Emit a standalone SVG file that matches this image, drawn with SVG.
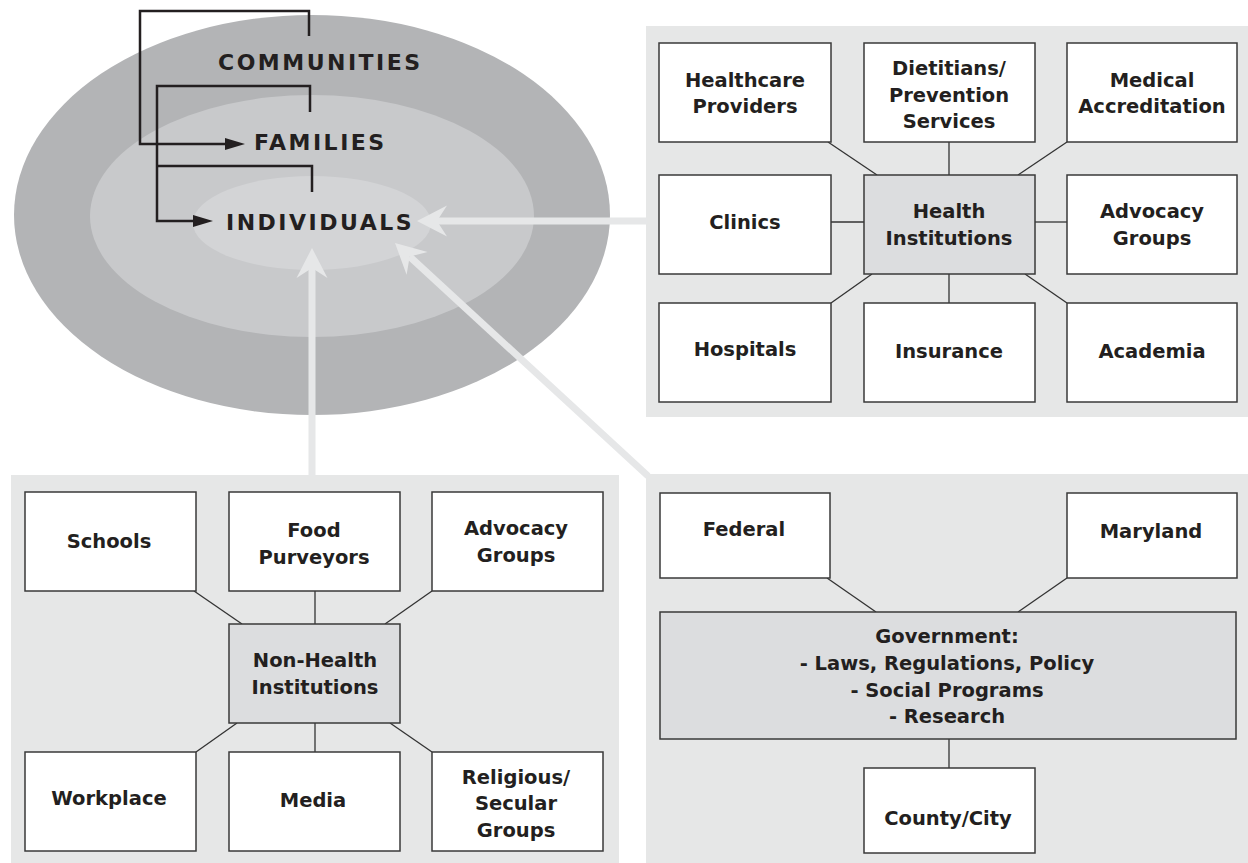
<svg xmlns="http://www.w3.org/2000/svg" width="1248" height="863" viewBox="0 0 1248 863">
<defs>
<style>
.panel{fill:#e6e7e7;stroke:none}
.box{fill:#ffffff;stroke:#3a3a3a;stroke-width:1.5}
.hub{fill:#dcdddf;stroke:#3a3a3a;stroke-width:1.5}
.ln{stroke:#333333;stroke-width:1.3;fill:none}
.t{font-family:"DejaVu Sans",Verdana,sans-serif;font-weight:bold;font-size:19.5px;fill:#231f20;text-anchor:middle}
.big{font-family:"DejaVu Sans",Verdana,sans-serif;font-weight:bold;font-size:22px;fill:#231f20;letter-spacing:2.5px}
.blk{stroke:#231f20;stroke-width:2.5;fill:none}
.lt{stroke:#e6e7e8;stroke-width:7;fill:none}
.lth{fill:#e6e7e8;stroke:none}
</style>
<marker id="ah" viewBox="0 0 20 12" refX="10" refY="6" markerWidth="20" markerHeight="12" markerUnits="userSpaceOnUse" orient="auto">
<path d="M0,0 L20,6 L0,12 z" fill="#231f20"/>
</marker>
</defs>
<rect width="1248" height="863" fill="#ffffff"/>

<g id="rings">
<ellipse id="communities-ring" cx="312" cy="215" rx="298" ry="200" fill="#b3b4b6"/>
<ellipse id="families-ring" cx="312" cy="216" rx="222" ry="121" fill="#c8c9cb"/>
<ellipse id="individuals-ring" cx="312" cy="223" rx="119" ry="47" fill="#d3d4d6"/>
</g>

<g id="panels">
<rect id="health-panel" class="panel" x="646" y="26" width="602" height="391"/>
<rect id="nonhealth-panel" class="panel" x="11" y="475" width="608" height="388"/>
<rect id="government-panel" class="panel" x="646" y="474" width="602" height="389"/>
</g>

<g id="connectors">
<line class="lt" x1="647" y1="221" x2="437" y2="221"/>
<polygon class="lth" points="417,221 447,205.5 437,221 447,236.5"/>
<line class="lt" x1="312" y1="476" x2="312" y2="268"/>
<polygon class="lth" points="312,248 327.5,278 312,268 296.5,278"/>
<line class="lt" x1="648" y1="476" x2="409.7" y2="256.6"/>
<polygon class="lth" points="395,243 427.6,251.9 409.7,256.6 406.6,274.7"/>

<path class="blk" d="M309,36 V11 H140 V144 H235" marker-end="url(#ah)"/>
<path class="blk" d="M310,112 V86 H157 V221 H203" marker-end="url(#ah)"/>
<path class="blk" d="M157,166 H312 V192"/>

<line class="ln" x1="828" y1="142" x2="877" y2="175"/>
<line class="ln" x1="949" y1="142" x2="949" y2="175"/>
<line class="ln" x1="1067" y1="142" x2="1018" y2="175"/>
<line class="ln" x1="831" y1="222" x2="864" y2="222"/>
<line class="ln" x1="1035" y1="222" x2="1067" y2="222"/>
<line class="ln" x1="872" y1="274" x2="831" y2="303"/>
<line class="ln" x1="949" y1="274" x2="949" y2="303"/>
<line class="ln" x1="1025" y1="274" x2="1067" y2="303"/>

<line class="ln" x1="194" y1="591" x2="242" y2="624"/>
<line class="ln" x1="315" y1="591" x2="315" y2="624"/>
<line class="ln" x1="432" y1="591" x2="385" y2="624"/>
<line class="ln" x1="237" y1="723" x2="196" y2="752"/>
<line class="ln" x1="315" y1="723" x2="315" y2="752"/>
<line class="ln" x1="390" y1="723" x2="432" y2="752"/>

<line class="ln" x1="827" y1="578" x2="876" y2="612"/>
<line class="ln" x1="1067" y1="578" x2="1018" y2="612"/>
<line class="ln" x1="949" y1="739" x2="949" y2="768"/>
</g>

<g id="ring-labels">
<text id="communities" class="big" x="218" y="70">COMMUNITIES</text>
<text id="families" class="big" x="254" y="150">FAMILIES</text>
<text id="individuals" class="big" x="226" y="230">INDIVIDUALS</text>
</g>

<g id="healthcare-providers"><rect class="box" x="659" y="43" width="172" height="99"/><text class="t" x="745" y="87">Healthcare</text><text class="t" x="745" y="113">Providers</text></g>
<g id="dietitians"><rect class="box" x="864" y="43" width="171" height="99"/><text class="t" x="949" y="75">Dietitians/</text><text class="t" x="949" y="102">Prevention</text><text class="t" x="949" y="128">Services</text></g>
<g id="medical-accreditation"><rect class="box" x="1067" y="43" width="170" height="99"/><text class="t" x="1152" y="87">Medical</text><text class="t" x="1152" y="113">Accreditation</text></g>
<g id="clinics"><rect class="box" x="659" y="175" width="172" height="99"/><text class="t" x="745" y="229">Clinics</text></g>
<g id="health-institutions"><rect class="hub" x="864" y="175" width="171" height="99"/><text class="t" x="949" y="218">Health</text><text class="t" x="949" y="245">Institutions</text></g>
<g id="advocacy-health"><rect class="box" x="1067" y="175" width="170" height="99"/><text class="t" x="1152" y="218">Advocacy</text><text class="t" x="1152" y="245">Groups</text></g>
<g id="hospitals"><rect class="box" x="659" y="303" width="172" height="99"/><text class="t" x="745" y="356">Hospitals</text></g>
<g id="insurance"><rect class="box" x="864" y="303" width="171" height="99"/><text class="t" x="949" y="358">Insurance</text></g>
<g id="academia"><rect class="box" x="1067" y="303" width="170" height="99"/><text class="t" x="1152" y="358">Academia</text></g>

<g id="schools"><rect class="box" x="25" y="492" width="171" height="99"/><text class="t" x="109" y="548">Schools</text></g>
<g id="food-purveyors"><rect class="box" x="229" y="492" width="171" height="99"/><text class="t" x="314" y="537">Food</text><text class="t" x="314" y="564">Purveyors</text></g>
<g id="advocacy-nonhealth"><rect class="box" x="432" y="492" width="171" height="99"/><text class="t" x="516" y="535">Advocacy</text><text class="t" x="516" y="562">Groups</text></g>
<g id="nonhealth-institutions"><rect class="hub" x="229" y="624" width="171" height="99"/><text class="t" x="315" y="667">Non-Health</text><text class="t" x="315" y="694">Institutions</text></g>
<g id="workplace"><rect class="box" x="25" y="752" width="171" height="99"/><text class="t" x="109" y="805">Workplace</text></g>
<g id="media"><rect class="box" x="229" y="752" width="171" height="99"/><text class="t" x="313" y="807">Media</text></g>
<g id="religious-secular"><rect class="box" x="432" y="752" width="171" height="99"/><text class="t" x="516" y="784">Religious/</text><text class="t" x="516" y="810">Secular</text><text class="t" x="516" y="837">Groups</text></g>

<g id="federal"><rect class="box" x="660" y="493" width="170" height="85"/><text class="t" x="744" y="536">Federal</text></g>
<g id="maryland"><rect class="box" x="1067" y="493" width="170" height="85"/><text class="t" x="1151" y="538">Maryland</text></g>
<g id="government"><rect class="hub" x="660" y="612" width="576" height="127"/><text class="t" x="947" y="643">Government:</text><text class="t" x="947" y="670">- Laws, Regulations, Policy</text><text class="t" x="947" y="697">- Social Programs</text><text class="t" x="947" y="723">- Research</text></g>
<g id="county-city"><rect class="box" x="864" y="768" width="171" height="85"/><text class="t" x="948" y="825">County/City</text></g>
</svg>
